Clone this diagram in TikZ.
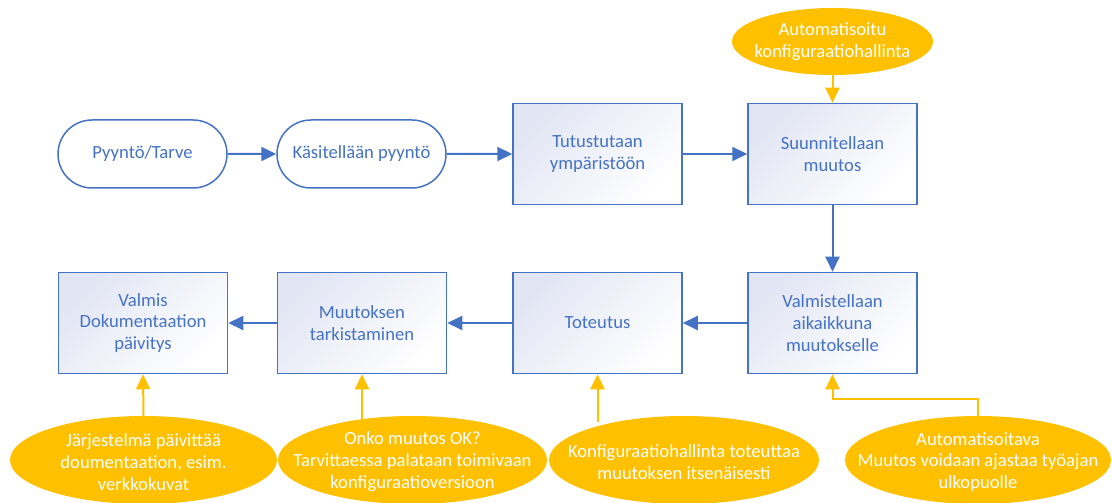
\documentclass[tikz,border=0pt]{standalone}
\usepackage{fontspec}
\setmainfont{Carlito}
\usetikzlibrary{arrows.meta,shapes.misc,shapes.geometric,calc}

\definecolor{flowblue}{HTML}{4472C4}
\definecolor{noteyellow}{HTML}{FFC000}
\definecolor{boxtint}{HTML}{E2E6F4}

\tikzset{
  base/.style={font=\fontsize{18.7}{22}\selectfont, text=flowblue, align=center, inner sep=0pt},
  stepbox/.style={base, draw=flowblue, line width=1.5bp,
    minimum width=169bp, minimum height=101bp,
    top color=boxtint, bottom color=white, shading angle=45},
  startbox/.style={base, rounded rectangle, draw=flowblue, line width=1.5bp,
    fill=white, minimum width=169bp, minimum height=68bp},
  note/.style={ellipse, fill=noteyellow, draw=none, inner sep=0pt},
  notetext/.style={font=\fontsize{18.7}{22}\selectfont, text=white, align=center, inner sep=0pt},
  flow/.style={draw=flowblue, line width=2bp, -{Triangle[length=15bp,width=14bp]}},
  hint/.style={draw=noteyellow, line width=2bp, -{Triangle[length=15bp,width=14bp]}},
}

\begin{document}
\begin{tikzpicture}[x=1bp,y=-1bp]
  \useasboundingbox (0,0) rectangle (1112,503);

  % main flow, upper row
  \node[startbox] (b1) at (142.5,154) {Pyyntö/Tarve};
  \node[startbox] (b2) at (361.5,154) {Käsitellään pyyntö};
  \node[stepbox]  (b3) at (597.5,154) {Tutustutaan\\ympäristöön};
  \node[stepbox]  (b4) at (832.5,154) {Suunnitellaan\\muutos};

  % main flow, lower row
  \node[stepbox] (b5) at (832.5,323) {Valmistellaan\\aikaikkuna\\muutokselle};
  \node[stepbox] (b6) at (597.5,323) {Toteutus};
  \node[stepbox] (b7) at (362,323)   {Muutoksen\\tarkistaminen};
  \node[stepbox] (b8) at (143,323)   {Valmis\\Dokumentaation\\päivitys};

  \draw[flow] (b1) -- (b2);
  \draw[flow] (b2) -- (b3);
  \draw[flow] (b3) -- (b4);
  \draw[flow] (b4) -- (b5);
  \draw[flow] (b5) -- (b6);
  \draw[flow] (b6) -- (b7);
  \draw[flow] (b7) -- (b8);

  % automation notes
  \node[note, minimum width=201bp, minimum height=67bp] (e0) at (832.5,41.5) {};
  \node[note, minimum width=267bp, minimum height=88bp] (e1) at (143.5,460) {};
  \node[note, minimum width=269bp, minimum height=88bp] (e2) at (412.5,460) {};
  \node[note, minimum width=270bp, minimum height=88bp] (e3) at (684,460) {};
  \node[note, minimum width=266bp, minimum height=88bp] (e4) at (978,460) {};

  \draw[hint] (e0.south) -- (b4.north);
  \draw[hint] (e1.north) -- (b8.south);
  \draw[hint] ($(e2.north -| b7.south)+(0,6)$) -- (b7.south);
  \draw[hint] ($(e3.north -| b6.south)+(0,6)$) -- (b6.south);
  \draw[hint] (e4.north) -- ++(0,-17) -| (b5.south);

  \node[notetext] (t0) at (e0) {Automatisoitu\\konfiguraatiohallinta};
  \node[notetext] (t1) at ([yshift=-2bp]e1.center) {Järjestelmä päivittää\\doumentaation, esim.\\verkkokuvat};
  \node[notetext] (t2) at ([yshift=-2bp]e2.center) {Onko muutos OK?\\Tarvittaessa palataan toimivaan\\konfiguraatioversioon};
  \node[notetext] (t3) at ([yshift=-2bp]e3.center) {Konfiguraatiohallinta toteuttaa\\muutoksen itsenäisesti};
  \node[notetext] (t4) at ([yshift=-2bp]e4.center) {Automatisoitava\\Muutos voidaan ajastaa työajan\\ulkopuolle};
\end{tikzpicture}
\end{document}
